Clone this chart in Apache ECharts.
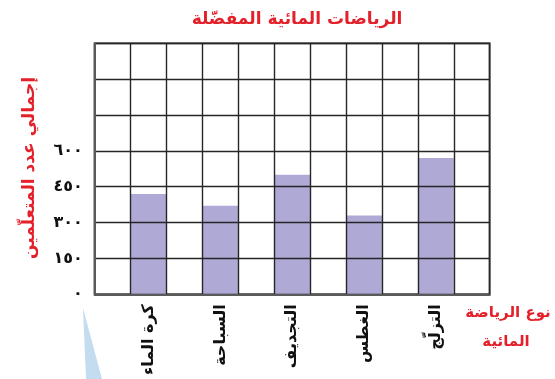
<!DOCTYPE html>
<html>
<head>
<meta charset="utf-8">
<script src="https://cdn.jsdelivr.net/npm/echarts@6/dist/echarts.min.js"></script>
<style>
  html, body { margin: 0; padding: 0; background: #ffffff; }
  #chart { width: 555px; height: 379px; }
</style>
</head>
<body>
<div id="chart"></div>
<script>
// Favourite water sports: total number of learners per sport
const sports = ['كرة الماء', 'السباحة', 'التجديف', 'الغطس', 'التزلّج'];
const learners = [420, 370, 500, 330, 570];
const yTicks = [0, 150, 300, 450, 600];

const chartTitle = 'الرياضات المائية المفضّلة';
const yTitle = 'إجمالي عدد المتعلّمين';
const xTitleLines = ['نوع الرياضة', 'المائية'];

const RED = '#e4202a';
const FONT = '"DejaVu Sans", sans-serif';

// Each sport sits in every other column of an 11-column grid
const slots = [];
const slotValues = [];
slots.push('');
slotValues.push('-');
sports.forEach((s, i) => {
  slots.push(s);
  slotValues.push(learners[i]);
  slots.push('');
  slotValues.push('-');
});

const arabicDigits = '٠١٢٣٤٥٦٧٨٩';
function toArabic(n) {
  return String(n).replace(/[0-9]/g, d => arabicDigits[+d]);
}

const chart = echarts.init(document.getElementById('chart'), null, { renderer: 'canvas' });

chart.setOption({
  animation: false,
  backgroundColor: '#ffffff',
  grid: {
    left: 94.7, right: 65.3, top: 43.3, bottom: 84.7,
    show: true, borderColor: '#5a5a5a', borderWidth: 2, backgroundColor: 'transparent'
  },
  xAxis: {
    type: 'category',
    data: slots,
    z: 5,
    boundaryGap: true,
    axisLine: { show: true, lineStyle: { color: '#5a5a5a', width: 2 } },
    axisTick: { show: false },
    axisLabel: {
      interval: 0, rotate: 90, margin: 10,
      fontFamily: FONT, fontWeight: 'bold', fontSize: 16, color: '#111'
    },
    splitLine: { show: true, interval: 0, lineStyle: { color: '#262626', width: 1.4 } }
  },
  yAxis: {
    type: 'value',
    min: 0, max: 1050, interval: 150,
    z: 5,
    axisLine: { show: true, lineStyle: { color: '#5a5a5a', width: 2 } },
    axisTick: { show: false },
    axisLabel: {
      margin: 12,
      fontFamily: FONT, fontWeight: 'bold', fontSize: 16, color: '#111',
      formatter: v => (yTicks.indexOf(v) >= 0 ? toArabic(v) : '')
    },
    splitLine: { show: true, lineStyle: { color: '#262626', width: 1.4 } }
  },
  series: [{
    type: 'bar',
    data: slotValues,
    barWidth: '100%',
    itemStyle: { color: '#afa9d5' },
    z: 2
  }],
  graphic: [
    {
      type: 'text', x: 297, y: 20, z: 10,
      style: { text: chartTitle, fontFamily: FONT, fontWeight: 'bold', fontSize: 17, fill: RED,
               align: 'center', verticalAlign: 'middle' }
    },
    {
      type: 'text', x: 30, y: 168, rotation: Math.PI / 2, z: 10,
      style: { text: yTitle, fontFamily: FONT, fontWeight: 'bold', fontSize: 17, fill: RED,
               align: 'center', verticalAlign: 'middle' }
    },
    {
      type: 'text', x: 508, y: 313, z: 10,
      style: { text: xTitleLines[0], fontFamily: FONT, fontWeight: 'bold', fontSize: 15, fill: RED,
               align: 'center', verticalAlign: 'middle' }
    },
    {
      type: 'text', x: 506, y: 342, z: 10,
      style: { text: xTitleLines[1], fontFamily: FONT, fontWeight: 'bold', fontSize: 15, fill: RED,
               align: 'center', verticalAlign: 'middle' }
    },
    {
      type: 'polygon', z: 1,
      shape: { points: [[83, 308], [102, 379], [86, 379]] },
      style: { fill: '#c4dcf0' }
    }
  ]
});
</script>
</body>
</html>
